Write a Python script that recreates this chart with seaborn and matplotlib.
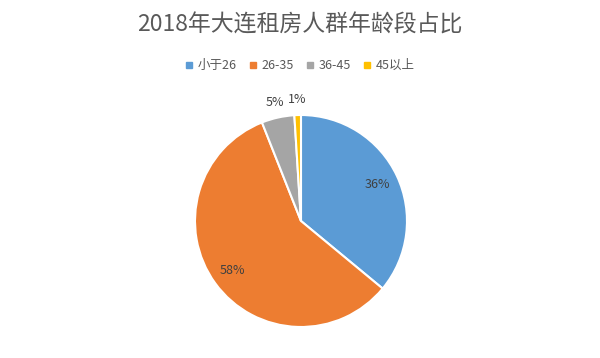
import matplotlib
matplotlib.use("Agg")
import matplotlib.pyplot as plt
import numpy as np
import seaborn as sns
from matplotlib.lines import Line2D

# Data
TITLE = "2018年大连租房人群年龄段占比"
CATEGORIES = ["小于26", "26-35", "36-45", "45以上"]
SHARES = [36, 58, 5, 1]
COLORS = ["#5B9BD5", "#ED7D31", "#A5A5A5", "#FFC000"]


def draw_chart():
    sns.set_theme(style="white")
    plt.rcParams["font.family"] = ["Noto Sans CJK SC", "DejaVu Sans"]

    fig = plt.figure(figsize=(6.0, 3.58), dpi=100)
    fig.patch.set_facecolor("white")
    ax = fig.add_axes([0.325, 0.0866, 0.3533, 0.5922])

    palette = sns.color_palette(COLORS)
    wedges, _ = ax.pie(SHARES, colors=palette, startangle=90, counterclock=False,
                       wedgeprops=dict(edgecolor="white", linewidth=1.5))
    ax.set_xlim(-1, 1)
    ax.set_ylim(-1, 1)
    ax.set_aspect("equal")
    ax.axis("off")

    # percentage labels: inside for big slices, outside for small ones
    total = sum(SHARES)
    for wedge, value in zip(wedges, SHARES):
        mid = np.deg2rad((wedge.theta1 + wedge.theta2) / 2)
        r = 0.8 if value / total > 0.1 else 1.15
        ax.text(r * np.cos(mid), r * np.sin(mid), f"{value / total:.0%}",
                ha="center", va="center", fontsize=9, color="#404040")

    fig.text(0.5, 0.93, TITLE, ha="center", va="center", fontsize=16.5, color="#595959")

    handles = [Line2D([], [], marker="s", linestyle="", markersize=5,
                      markerfacecolor=c, markeredgecolor=c) for c in palette]
    fig.legend(handles, CATEGORIES, loc="center", bbox_to_anchor=(0.5, 0.816), ncol=4,
               frameon=False, fontsize=9, handlelength=0.6, handletextpad=0.4,
               columnspacing=1.0, labelcolor="#595959")

    fig.savefig("out.png", dpi=100, facecolor="white")


if __name__ == "__main__":
    draw_chart()
